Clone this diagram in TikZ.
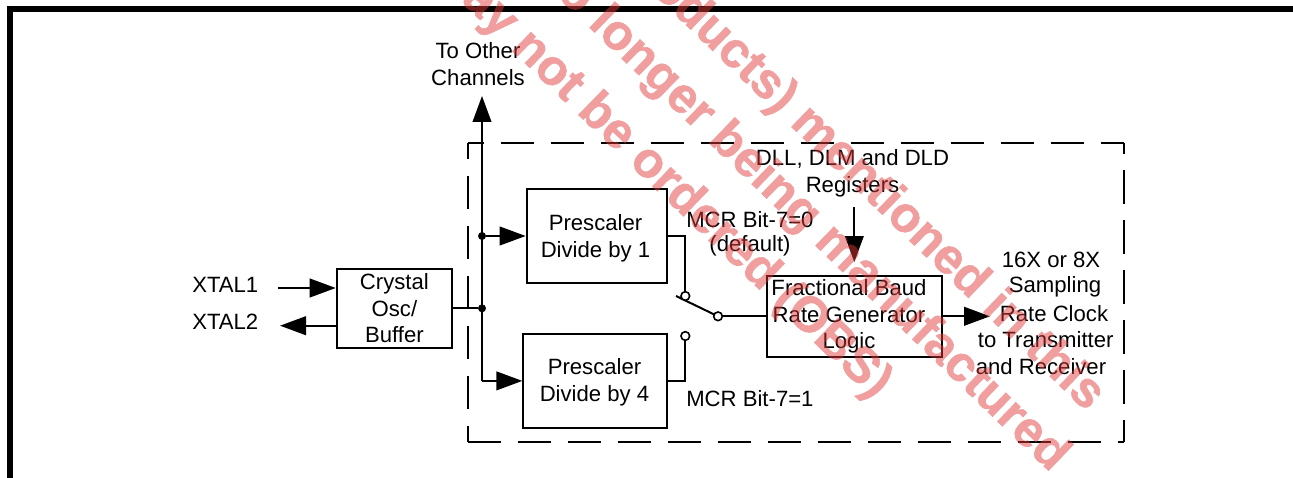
\documentclass[tikz,border=0pt]{standalone}
\usepackage{fontspec}
\setmainfont{Liberation Sans}
\newfontfamily\wmfont[BoldFeatures={FakeBold=1.2}]{Liberation Sans}
\usetikzlibrary{arrows.meta}
\definecolor{wmred}{RGB}{224,57,57}
\tikzset{
  x=0.75pt,y=-0.75pt,
  lbl/.style={inner sep=0pt,align=center,font=\fontsize{16.6}{20}\selectfont,text=black},
  blk/.style={draw=black,line width=1.5pt,inner sep=0pt,align=center,font=\fontsize{16.6}{20}\selectfont},
  wire/.style={draw=black,line width=1.5pt},
  arr/.style={wire,-{Triangle[length=19.5pt,width=14pt]}},
  dot/.style={circle,fill=black,draw=black,inner sep=0pt,minimum size=5.5pt},
  term/.style={circle,fill=white,draw=black,line width=1.2pt,inner sep=0pt,minimum size=6.5pt},
  dsh/.style={line width=1.5pt,draw=black},
  wm/.style={inner sep=0pt,rotate=-44,text=wmred,font=\fontsize{37.5}{40}\selectfont\wmfont\bfseries},
}
\begin{document}
\begin{tikzpicture}
\useasboundingbox (0,0) rectangle (1293,478);
% outer frame
\draw[line width=4.5pt,draw=black] (10,478) -- (10,9) -- (1293,9);
% dashed boundary
\coordinate (bl) at (467.6,442.3);
\coordinate (tl) at (467.6,142.7);
\coordinate (tr) at (1124.3,142.7);
\coordinate (br) at (1124.3,442.3);
\draw[dsh,dash pattern=on 25pt off 12.5pt,dash phase=12.75pt] (tl) -- (tr);
\draw[dsh,dash pattern=on 25pt off 12.5pt,dash phase=12.75pt] (tl) -- (bl);
\draw[dsh,dash pattern=on 25pt off 12.5pt] (bl) -- (br);
\draw[dsh,dash pattern=on 25pt off 12.5pt,dash phase=16.7pt] (tr) -- (br);
% blocks
\node[blk,minimum width=86.5pt,minimum height=59pt] (xo) at (394.4,308.3) {Crystal\\Osc/\\Buffer};
\node[blk,minimum width=105.5pt,minimum height=70.5pt] (p1) at (597,236) {};
\node[lbl] (p1t) at (595.5,238) {Prescaler\\Divide by 1};
\node[blk,minimum width=107.5pt,minimum height=70.7pt] (p2) at (595,381.2) {};
\node[lbl] (p2t) at (594.5,382.5) {Prescaler\\Divide by 4};
\node[blk,minimum width=131.5pt,minimum height=60.5pt] (fb) at (854.3,316.3) {};
\node[lbl] (fbt) at (849,316.5) {Fractional Baud\\Rate Generator\\Logic};
% labels
\node[lbl] (oth) at (478,64) {To Other\\Channels};
\node[lbl,anchor=west] (x1) at (192,285) {XTAL1};
\node[lbl,anchor=west] (x2) at (192,322) {XTAL2};
\node[lbl,anchor=west] (m0) at (686,220) {MCR Bit-7=0};
\node[lbl] (md) at (750,246) {(default)};
\node[lbl,anchor=west] (m1) at (686,399) {MCR Bit-7=1};
\node[lbl] (dll) at (852.5,173.5) {DLL, DLM and DLD\\Registers};
\node[lbl] (o1) at (1051,260) {16X or 8X};
\node[lbl] (o2) at (1055,287) {Sampling};
\node[lbl] (o3) at (1054,313.5) {Rate Clock};
\node[lbl] (o4) at (1045.7,340) {to Transmitter};
\node[lbl] (o5) at (1041,367) {and Receiver};
% junctions and free ends
\coordinate (top) at (482,96);
\node[dot] (j1) at (482,236) {};
\node[dot] (j2) at (482,308.3) {};
\coordinate (j3) at (482,380.9);
\coordinate (xa) at (278,288);
\coordinate (xb) at (280,325.7);
\coordinate (lev) at (676,296);
\coordinate (c1) at (685.3,236);
\coordinate (c3) at (685.3,381);
\coordinate (ot) at (990,316.3);
\coordinate (dt) at (854.3,207);
\coordinate (dh) at (854.3,262);
% connectors
\draw[arr] (j3) -- (top);
\draw[wire] (xo.east) -- (j2);
\draw[wire] (j2) -- (j3);
\draw[arr] (j1) -- (p1.west);
\draw[arr] (j3) -- (p2.west |- j3);
\draw[arr] (xa) -- (xo.west |- xa);
\draw[arr] (xo.west |- xb) -- (xb);
\draw[wire] (lev) -- (718,316.3);
\node[term] (s1) at (685.3,296) {};
\node[term] (s2) at (718,316.3) {};
\node[term] (s3) at (685.3,336) {};
\draw[wire] (p1.east) -- (c1) -- (s1);
\draw[wire] (p2.east |- c3) -- (c3) -- (s3);
\draw[wire] (s2) -- (fb.west);
\draw[arr] (fb.east) -- (ot);
\draw[arr] (dt) -- (dh);
% overprinted notice
\begin{scope}[transparency group,opacity=0.49]
\clip (0,0) rectangle (1293,478);
\node[wm,anchor=east] (wa) at (1096,403) {(products) mentioned in this};
\node[wm,anchor=east] (wb) at (1060,464) {no longer being manufactured};
\node[wm,anchor=east] (wc) at (883,391) {may not be ordered (OBS)};
\end{scope}
\end{tikzpicture}
\end{document}
